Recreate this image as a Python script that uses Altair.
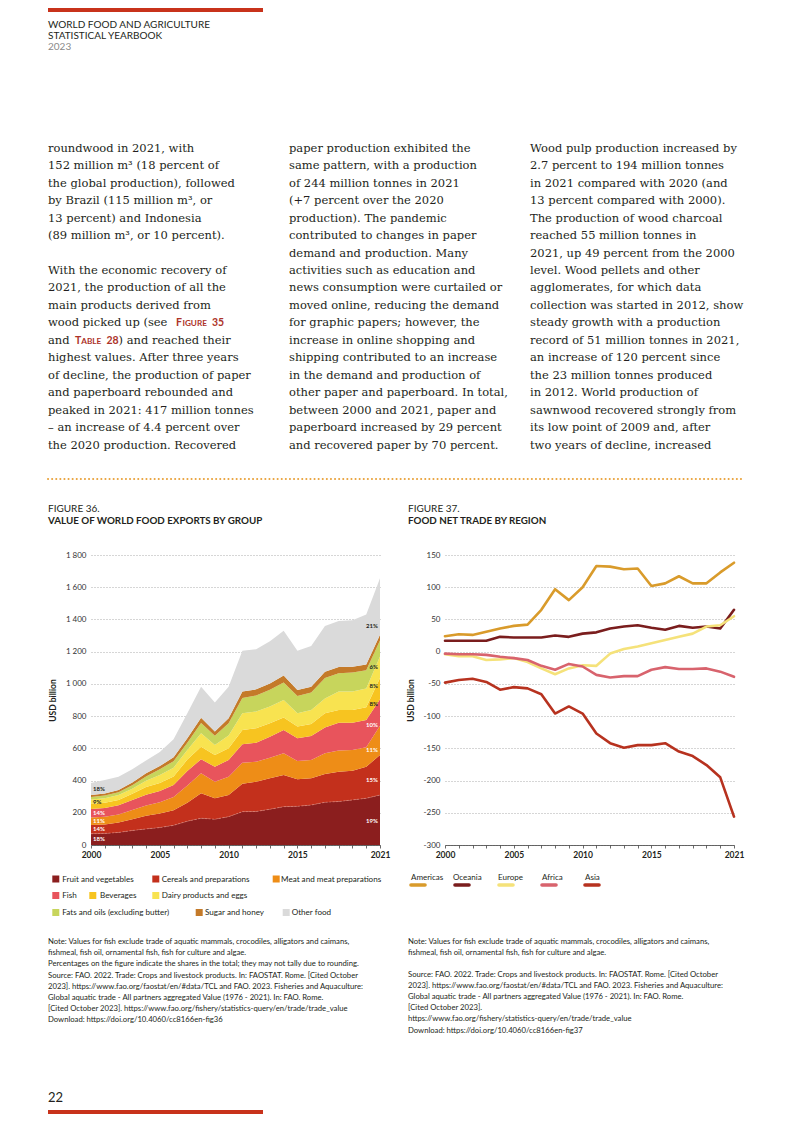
import altair as alt
import pandas as pd

# ---------------- data ----------------
years = list(range(2000, 2022))

groups = [
    "Fruit and vegetables", "Cereals and preparations", "Meat and meat preparations",
    "Fish", "Beverages", "Dairy products and eggs",
    "Fats and oils (excluding butter)", "Sugar and honey", "Other food",
]
group_colors = ["#8b1e1e", "#c3301c", "#ee8d17", "#e8545c", "#f7c420",
                "#f8e350", "#c7d55c", "#c47a29", "#dadada"]

fruit_veg = [70, 72, 78, 90, 100, 108, 122, 148, 166, 160, 176, 207, 208, 222, 238, 240, 248, 265, 270, 280, 290, 310]
cereals = [54, 56, 62, 70, 82, 87, 93, 114, 155, 130, 134, 173, 185, 192, 196, 168, 166, 176, 185, 181, 196, 248]
meat = [46, 48, 50, 58, 63, 70, 83, 108, 124, 103, 114, 131, 124, 128, 135, 113, 114, 128, 131, 129, 120, 182]
fish = [54, 54, 56, 62, 67, 70, 74, 90, 87, 93, 104, 114, 118, 130, 145, 141, 149, 161, 173, 169, 170, 165]
beverages = [31, 32, 34, 38, 48, 50, 53, 70, 78, 73, 72, 89, 89, 83, 78, 73, 74, 87, 79, 79, 79, 132]
dairy = [27, 28, 30, 31, 39, 50, 55, 60, 83, 62, 80, 103, 104, 104, 108, 82, 87, 93, 114, 114, 117, 133]
fats_oils = [16, 17, 17, 22, 26, 35, 40, 45, 65, 57, 75, 95, 100, 104, 108, 108, 108, 126, 114, 118, 113, 100]
sugar_honey = [12, 13, 14, 17, 20, 20, 24, 27, 32, 27, 31, 40, 38, 40, 44, 37, 37, 40, 39, 37, 36, 35]
other_food = [75, 83, 83, 82, 80, 87, 112, 155, 193, 180, 197, 253, 249, 262, 278, 243, 252, 284, 285, 288, 309, 350]
group_values = [fruit_veg, cereals, meat, fish, beverages, dairy, fats_oils, sugar_honey, other_food]

labels_2000 = ["18%", "14%", "11%", "14%", "", "9%", "", "", "18%"]
labels_2021 = ["19%", "15%", "11%", "10%", "8%", "8%", "6%", "", "21%"]

regions = ["Americas", "Oceania", "Europe", "Africa", "Asia"]
region_colors = ["#d99b2b", "#7a1d1d", "#f5e27a", "#d8636d", "#b7321f"]
americas = [24, 27, 26, 31, 36, 40, 42, 65, 97, 80, 100, 133, 132, 128, 129, 102, 106, 117, 106, 106, 123, 138]
oceania = [17, 17, 17, 17, 23, 22, 22, 22, 25, 23, 28, 30, 36, 39, 41, 37, 34, 40, 37, 39, 36, 65]
europe = [-4, -7, -7, -13, -12, -10, -16, -26, -35, -26, -21, -22, -3, 4, 8, 13, 18, 23, 28, 39, 41, 55]
africa = [-3, -4, -4, -5, -8, -10, -13, -22, -28, -19, -23, -36, -40, -38, -38, -28, -24, -27, -27, -26, -31, -39]
asia = [-48, -44, -42, -47, -59, -55, -57, -66, -96, -85, -96, -127, -142, -149, -145, -145, -142, -155, -162, -176, -195, -256]
region_values = [americas, oceania, europe, africa, asia]

col1a = ["roundwood in 2021, with", "152 million m³ (18 percent of", "the global production), followed",
         "by Brazil (115 million m³, or", "13 percent) and Indonesia", "(89 million m³, or 10 percent)."]
col1b = ["With the economic recovery of", "2021, the production of all the", "main products derived from",
         "wood picked up (see", "and", "highest values. After three years",
         "of decline, the production of paper", "and paperboard rebounded and",
         "peaked in 2021: 417 million tonnes", "– an increase of 4.4 percent over",
         "the 2020 production. Recovered"]
col2 = ["paper production exhibited the", "same pattern, with a production", "of 244 million tonnes in 2021",
        "(+7 percent over the 2020", "production). The pandemic", "contributed to changes in paper",
        "demand and production. Many", "activities such as education and",
        "news consumption were curtailed or", "moved online, reducing the demand",
        "for graphic papers; however, the", "increase in online shopping and",
        "shipping contributed to an increase", "in the demand and production of",
        "other paper and paperboard. In total,", "between 2000 and 2021, paper and",
        "paperboard increased by 29 percent", "and recovered paper by 70 percent."]
col3 = ["Wood pulp production increased by", "2.7 percent to 194 million tonnes",
        "in 2021 compared with 2020 (and", "13 percent compared with 2000).",
        "The production of wood charcoal", "reached 55 million tonnes in",
        "2021, up 49 percent from the 2000", "level. Wood pellets and other",
        "agglomerates, for which data", "collection was started in 2012, show",
        "steady growth with a production", "record of 51 million tonnes in 2021,",
        "an increase of 120 percent since", "the 23 million tonnes produced",
        "in 2012. World production of", "sawnwood recovered strongly from",
        "its low point of 2009 and, after", "two years of decline, increased"]

note36 = ["Note: Values for fish exclude trade of aquatic mammals, crocodiles, alligators and caimans,",
          "fishmeal, fish oil, ornamental fish, fish for culture and algae.",
          "Percentages on the figure indicate the shares in the total; they may not tally due to rounding."]
source36 = ["Source: FAO. 2022. Trade: Crops and livestock products. In: FAOSTAT. Rome. [Cited October",
            "2023]. https://www.fao.org/faostat/en/#data/TCL and FAO. 2023. Fisheries and Aquaculture:",
            "Global aquatic trade - All partners aggregated Value (1976 - 2021). In: FAO. Rome.",
            "[Cited October 2023]. https://www.fao.org/fishery/statistics-query/en/trade/trade_value",
            "Download: https://doi.org/10.4060/cc8166en-fig36"]
note37 = ["Note: Values for fish exclude trade of aquatic mammals, crocodiles, alligators and caimans,",
          "fishmeal, fish oil, ornamental fish, fish for culture and algae."]
source37 = ["Source: FAO. 2022. Trade: Crops and livestock products. In: FAOSTAT. Rome. [Cited October",
            "2023]. https://www.fao.org/faostat/en/#data/TCL and FAO. 2023. Fisheries and Aquaculture:",
            "Global aquatic trade - All partners aggregated Value (1976 - 2021). In: FAO. Rome.",
            "[Cited October 2023].",
            "https://www.fao.org/fishery/statistics-query/en/trade/trade_value",
            "Download: https://doi.org/10.4060/cc8166en-fig37"]

# ---------------- tables ----------------
rows = []
for i, (g, vals) in enumerate(zip(groups, group_values)):
    for y, v in zip(years, vals):
        rows.append({"year": y, "group": g, "value": v, "order": i})
df36 = pd.DataFrame(rows)

lab_rows = []
running = [0] * len(years)
for i, vals in enumerate(group_values):
    lo = running[:]
    hi = [a + b for a, b in zip(running, vals)]
    running = hi
    light = i < 4
    if labels_2000[i]:
        lab_rows.append({"year": 2000, "pos": (lo[0] + hi[0]) / 2, "t": labels_2000[i],
                         "side": "L", "light": light})
    if labels_2021[i]:
        t = 0.4
        l = lo[-2] + (lo[-1] - lo[-2]) * t
        h = hi[-2] + (hi[-1] - hi[-2]) * t
        lab_rows.append({"year": 2021, "pos": (l + h) / 2, "t": labels_2021[i],
                         "side": "R", "light": light})
df_lab = pd.DataFrame(lab_rows)

rows = []
for r, vals in zip(regions, region_values):
    for y, v in zip(years, vals):
        rows.append({"year": y, "region": r, "value": v})
df37 = pd.DataFrame(rows)

one = pd.DataFrame({"k": [0]})
INK = "#231f20"
SANS = "Lato"
SERIF = "DejaVu Serif"
RED = "#c8321b"
LINK = "#ad3329"


def tblock(lines, x, y, size, font=SANS, weight="normal", color=INK, lh=None, baseline="alphabetic"):
    kw = dict(text=lines, align="left", baseline=baseline, font=font,
              fontSize=size, fontWeight=weight, color=color)
    if lh is not None:
        kw["lineHeight"] = lh
    return alt.Chart(one).mark_text(**kw).encode(x=alt.value(x), y=alt.value(y))


def frame(x, y=-60):
    return alt.Chart(one).mark_rule(strokeOpacity=0, strokeWidth=1).encode(
        x=alt.value(x), y=alt.value(y), y2=alt.value(0))


def rect(x, x2, y, y2, color):
    return alt.Chart(one).mark_rect(color=color).encode(
        x=alt.value(x), x2=alt.value(x2), y=alt.value(y), y2=alt.value(y2))


# ---------------- top text panel (origin aligned with the figure row) ----------------
LH = 17.47
B0 = 83.7
top = alt.layer(
    frame(-83),
    rect(-43, 172, -60, -56, RED),
    tblock("WORLD FOOD AND AGRICULTURE", -43, -39.7, 10),
    tblock("STATISTICAL YEARBOOK", -43, -29, 10),
    tblock("2023", -43, -18, 10, color="#8a8a8a"),
    tblock(col1a, -43, B0, 11.5, font=SERIF, lh=LH),
    tblock(col1b, -43, B0 + 7 * LH, 11.5, font=SERIF, lh=LH),
    tblock("F", 85, B0 + 10 * LH, 10.5, weight="bold", color=LINK),
    tblock("IGURE", 91.5, B0 + 10 * LH, 8.2, weight="bold", color=LINK),
    tblock("35", 121, B0 + 10 * LH, 10.5, weight="bold", color=LINK),
    tblock("T", -16, B0 + 11 * LH, 10.5, weight="bold", color=LINK),
    tblock("ABLE", -9.8, B0 + 11 * LH, 8.2, weight="bold", color=LINK),
    tblock("28", 15.5, B0 + 11 * LH, 10.5, weight="bold", color=LINK),
    tblock(") and reached their", 27.5, B0 + 11 * LH, 11.5, font=SERIF),
    tblock(col2, 198, B0, 11.5, font=SERIF, lh=LH),
    tblock(col3, 439, B0, 11.5, font=SERIF, lh=LH),
    alt.Chart(one).mark_rule(color="#e9a23b", strokeWidth=2, strokeDash=[0.1, 4], strokeCap="round").encode(
        x=alt.value(-43), x2=alt.value(654), y=alt.value(411)),
).properties(width=600, height=427)

# ---------------- figure 36 ----------------
year_labels = "indexof([2000, 2005, 2010, 2015, 2021], datum.value) >= 0 ? datum.value : ''"


def xaxis():
    return alt.Axis(values=years, labelExpr=year_labels, labelFlush=False, labelOverlap=False,
                    tickSize=3, tickColor="#444", tickWidth=0.8, domainColor="#444",
                    domainWidth=0.8, labelFontSize=8.5, labelFontWeight="bold",
                    labelColor=INK, labelPadding=2, grid=False, title=None)


def yaxis(vals, expr, tx):
    return alt.Axis(values=vals, labelExpr=expr, labelOverlap=False,
                    grid=True, gridDash=[1, 2], gridColor="#8a8a8a", gridWidth=0.7,
                    domain=False, ticks=False, labelPadding=5, labelFontSize=8,
                    labelColor="#333", labelFlush=False, title="USD billion",
                    titleFontSize=8.5, titleFontWeight="bold", titleColor=INK,
                    titleAngle=270, titleX=tx, titleY=145, titleAlign="center",
                    titleBaseline="bottom")


xs = alt.Scale(domain=[2000, 2021], nice=False, zero=False)
ys36 = alt.Scale(domain=[0, 1800], nice=False)
ax36 = yaxis(list(range(0, 1801, 200)), "replace(format(datum.value, ','), ',', ' ')", -34)


def X(field="year"):
    return alt.X(f"{field}:Q", scale=xs, axis=xaxis())


area = alt.Chart(df36).mark_area(opacity=1).encode(
    x=X(),
    y=alt.Y("value:Q", stack="zero", scale=ys36, axis=ax36),
    color=alt.Color("group:N", scale=alt.Scale(domain=groups, range=group_colors), legend=None),
    order=alt.Order("order:Q", sort="ascending"),
)
fruit_line = alt.Chart(df36).transform_filter(alt.datum.group == groups[0]).mark_line(
    color="#e59a8d", strokeWidth=0.6, strokeDash=[2, 1.5], opacity=0.8).encode(
    x=X(), y=alt.Y("value:Q", scale=ys36, axis=ax36))


def pct(side, light):
    d = df_lab[(df_lab.side == side) & (df_lab.light == light)]
    return alt.Chart(d).mark_text(
        align="left" if side == "L" else "right", dx=2 if side == "L" else -2,
        baseline="middle", font=SANS, fontSize=6, fontWeight="bold",
        color="#ffffff" if light else INK).encode(
        x=X(), y=alt.Y("pos:Q", scale=ys36, axis=ax36), text="t:N")


# legend layout (3 flowing rows), positions relative to the plot origin
leg36_sq_x = [-38.7, 61.3, 181.7, -38.7, -1.7, 61.3, -38.7, 104.7, 191.7]
leg36_tx_x = [-28.7, 70.7, 190, -28.7, 9, 70.7, -28.7, 114, 200.7]
leg36_row_y = [324, 324, 324, 340.5, 340.5, 340.5, 357.5, 357.5, 357.5]
legend36 = []
for g, c, sx, tx, ry in zip(groups, group_colors, leg36_sq_x, leg36_tx_x, leg36_row_y):
    legend36.append(rect(sx, sx + 7, ry - 3.5, ry + 3.5, c))
    legend36.append(tblock(g, tx, ry + 0.5, 8.1, baseline="middle"))

c36 = alt.layer(
    frame(-83), frame(309),
    tblock("FIGURE 36.", -43, -43, 10),
    tblock("VALUE OF WORLD FOOD EXPORTS BY GROUP", -43, -31, 9.8, weight="bold"),
    area, fruit_line,
    pct("L", True), pct("L", False), pct("R", True), pct("R", False),
    *legend36,
    tblock(note36, -43, 389, 7.7, lh=10.9),
    tblock(source36, -43, 422.5, 7.7, lh=11.1),
    tblock("22", -43, 547, 13),
    rect(-43, 172, 555, 559, RED),
).properties(width=289, height=290)

# ---------------- figure 37 ----------------
ys37 = alt.Scale(domain=[-300, 150], nice=False, zero=False)
ax37 = yaxis(list(range(-300, 151, 50)), "'' + datum.value", -30)

lines = alt.Chart(df37).mark_line(strokeWidth=2.6, strokeCap="round", strokeJoin="round").encode(
    x=X(), y=alt.Y("value:Q", scale=ys37, axis=ax37),
    color=alt.Color("region:N", scale=alt.Scale(domain=regions, range=region_colors), legend=None),
)

leg_text_x = [-34, 8, 53, 97, 140]
leg_line_x = [-36, 8, 52, 95, 138]
legend37 = []
for name, colr, tx, lx in zip(regions, region_colors, leg_text_x, leg_line_x):
    legend37.append(tblock(name, tx, 324.5, 8))
    legend37.append(alt.Chart(one).mark_rule(color=colr, strokeWidth=3.6, strokeCap="round").encode(
        x=alt.value(lx + 2), x2=alt.value(lx + 16), y=alt.value(330)))

c37 = alt.layer(
    frame(-45),
    tblock("FIGURE 37.", -37, -43, 10),
    tblock("FOOD NET TRADE BY REGION", -37, -31, 9.8, weight="bold"),
    lines,
    *legend37,
    tblock(note37, -37, 389, 7.7, lh=10.9),
    tblock(source37, -37, 422, 7.7, lh=11.1),
).properties(width=289, height=290)

row = alt.hconcat(c36, c37, spacing=0).resolve_scale(color="independent")

chart = alt.vconcat(top, row, spacing=0).resolve_scale(color="independent").properties(
    padding=0).configure(font=SANS).configure_view(strokeWidth=0, stroke="transparent")

chart.save("out.html", embed_options={"renderer": "svg", "actions": False})
